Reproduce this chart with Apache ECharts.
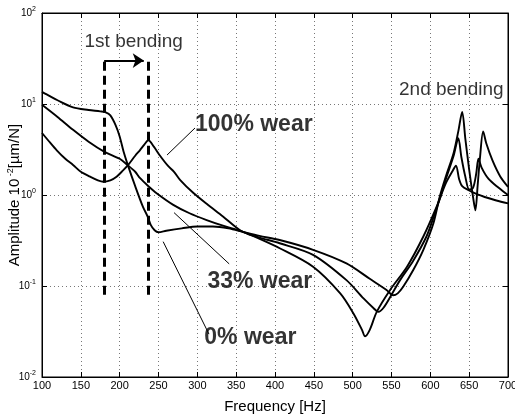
<!DOCTYPE html>
<html>
<head>
<meta charset="utf-8">
<script src="https://cdn.jsdelivr.net/npm/echarts@6/dist/echarts.min.js"></script>
<style>
  html, body { margin: 0; padding: 0; background: #fff; }
  #chart { width: 515px; height: 416px; }
</style>
</head>
<body>
<div id="chart"></div>
<script>
// frequency response curves (Hz, amplitude)
const freq0 = [100, 110, 120, 140, 160, 175, 182, 188, 195, 200, 205, 210, 220, 230, 236, 240, 245, 250, 260, 280, 300, 320, 340, 360, 380, 406, 449, 492, 522, 544, 552, 558, 565, 578, 591, 604, 612, 620, 630, 636, 641, 645, 650, 655, 658, 661, 664, 668, 672, 680, 690, 700];
const amp0 = [13.6, 12.2, 11, 9.2, 8.6, 8.3, 8.1, 7.5, 5.8, 4.4, 3.0, 2.2, 1.25, 0.74, 0.58, 0.47, 0.41, 0.39, 0.405, 0.43, 0.45, 0.45, 0.43, 0.39, 0.355, 0.32, 0.25, 0.177, 0.12, 0.09, 0.079, 0.083, 0.098, 0.15, 0.25, 0.49, 0.95, 1.6, 2.9, 5.0, 8.2, 4.2, 1.9, 0.95, 0.68, 1.3, 2.6, 5.0, 3.7, 2.4, 1.6, 1.23];

const freq33 = [100, 120, 140, 160, 180, 200, 210, 220, 226, 237, 248, 269, 290, 312, 333, 355, 365, 380, 406, 449, 492, 514, 527, 533, 540, 550, 561, 578, 595, 605, 612, 620, 630, 636, 640, 645, 650, 655, 659, 662, 666, 675, 688, 700];
const amp33 = [9.8, 7.2, 5.2, 3.85, 3.0, 2.5, 2.14, 1.8, 1.54, 1.25, 1.04, 0.78, 0.63, 0.53, 0.46, 0.405, 0.375, 0.34, 0.295, 0.22, 0.116, 0.073, 0.057, 0.052, 0.058, 0.08, 0.116, 0.19, 0.35, 0.6, 0.9, 1.5, 2.7, 4.2, 2.6, 1.6, 1.15, 1.2, 1.7, 2.5, 2.0, 1.5, 1.2, 1.0];

const freq100 = [100, 110, 119, 130, 140, 150, 162, 172, 179, 188, 196, 204, 211, 220, 226, 232, 237, 244, 252, 262, 270, 278, 295, 312, 333, 355, 370, 406, 449, 484, 501, 512, 516, 522, 531, 548, 570, 591, 608, 620, 628, 633, 637, 641, 650, 660, 670, 685, 700];
const amp100 = [4.8, 3.8, 3.1, 2.5, 2.14, 1.8, 1.59, 1.45, 1.4, 1.45, 1.59, 1.85, 2.14, 2.7, 3.1, 3.6, 4.0, 3.4, 2.7, 2.1, 1.8, 1.46, 1.05, 0.8, 0.58, 0.41, 0.36, 0.26, 0.163, 0.083, 0.05, 0.033, 0.028, 0.033, 0.052, 0.09, 0.163, 0.35, 0.74, 1.35, 1.8, 2.1, 1.5, 1.25, 1.12, 1.02, 0.95, 0.87, 0.81];

// annotations
const bendFreqs = [180, 237];
const bendRange = [0.08, 33];
const arrowFreqs = [180, 231];
const arrowAmp = 30;
const labelTexts = ['1st bending', '2nd bending', '100% wear', '33% wear', '0% wear'];
const labelFreqs = [218, 627, 297, 313, 309];
const labelAmps = [48, 14.2, 5.9, 0.113, 0.027];
const leaderFrom = [[261, 2.75], [270, 0.64], [256, 0.307]];
const leaderTo = [[297, 5.45], [341, 0.175], [315, 0.0296]];

const xTicks = [100, 700, 50];
const yRange = [0.01, 100];

const chart = echarts.init(document.getElementById('chart'));

const pairs = (xs, ys) => xs.map((x, i) => [x, ys[i]]);

function curve(name, xs, ys) {
    return {
        name: name,
        type: 'line',
        data: pairs(xs, ys),
        smooth: 0.3,
        symbol: 'none',
        lineStyle: { color: '#000', width: 1.9 },
        emphasis: { disabled: true }
    };
}

const font = 'Liberation Sans, Arial, sans-serif';

const markLines = [];
bendFreqs.forEach(f => {
    markLines.push([
        { coord: [f, bendRange[0]], lineStyle: { type: [9, 5], width: 3, color: '#000' } },
        { coord: [f, bendRange[1]] }
    ]);
});
markLines.push([
    { coord: [arrowFreqs[0], arrowAmp], symbol: 'none', lineStyle: { type: 'solid', width: 2, color: '#000' } },
    { coord: [arrowFreqs[1], arrowAmp], symbol: 'arrow' }
]);
leaderFrom.forEach((p, i) => {
    markLines.push([
        { coord: p, lineStyle: { type: 'solid', width: 1, color: '#000' } },
        { coord: leaderTo[i] }
    ]);
});

const labelData = labelTexts.map((t, i) => ({
    name: t,
    value: [labelFreqs[i], labelAmps[i]],
    label: i < 2
        ? { position: 'inside', fontSize: 19, fontWeight: 'normal' }
        : { position: 'right', distance: 0, fontSize: 23, fontWeight: 'bold' }
}));

const supLabel = v => '10{s|' + Math.round(Math.log10(v)) + '}';

const option = {
    animation: false,
    textStyle: { fontFamily: font },
    grid: {
        left: 42, right: 7, top: 13, bottom: 39,
        containLabel: false, outerBoundsMode: 'none',
        show: true, borderColor: '#000', borderWidth: 1
    },
    xAxis: [{
        type: 'value',
        min: xTicks[0],
        max: xTicks[1],
        interval: xTicks[2],
        name: 'Frequency [Hz]',
        nameLocation: 'middle',
        nameGap: 22,
        nameMoveOverlap: false,
        nameTextStyle: { fontSize: 15, color: '#000', fontFamily: font },
        axisLine: { lineStyle: { color: '#000' } },
        axisTick: { inside: true, length: 5, lineStyle: { color: '#000' } },
        axisLabel: { fontSize: 11, color: '#000', margin: 3, fontFamily: font },
        splitLine: { show: true, lineStyle: { type: [1, 3], color: '#777' } }
    }, {
        type: 'value',
        position: 'top',
        min: xTicks[0],
        max: xTicks[1],
        interval: xTicks[2],
        axisLine: { lineStyle: { color: '#000' } },
        axisTick: { inside: true, length: 5, lineStyle: { color: '#000' } },
        axisLabel: { show: false },
        splitLine: { show: false }
    }],
    yAxis: [{
        type: 'log',
        logBase: 10,
        min: yRange[0],
        max: yRange[1],
        name: 'Amplitude 10{s| -2}[µm/N]',
        nameLocation: 'middle',
        nameGap: 19,
        nameMoveOverlap: false,
        nameRotate: 90,
        nameTextStyle: {
            fontSize: 15, color: '#000', fontFamily: font,
            rich: { s: { fontSize: 9, color: '#000', padding: [0, 0, 8, 0], fontFamily: font } }
        },
        axisLine: { lineStyle: { color: '#000' } },
        axisTick: { inside: true, length: 5, lineStyle: { color: '#000' } },
        minorTick: { show: false },
        axisLabel: {
            fontSize: 10, color: '#000', margin: 6, fontFamily: font,
            formatter: supLabel,
            rich: { s: { fontSize: 7, color: '#000', padding: [0, 0, 7, 0], fontFamily: font } }
        },
        splitLine: { show: true, lineStyle: { type: [1, 3], color: '#777' } }
    }, {
        type: 'log',
        logBase: 10,
        min: yRange[0],
        max: yRange[1],
        position: 'right',
        axisLine: { lineStyle: { color: '#000' } },
        axisTick: { inside: true, length: 5, lineStyle: { color: '#000' } },
        axisLabel: { show: false },
        splitLine: { show: false }
    }],
    series: [
        curve('0% wear', freq0, amp0),
        curve('33% wear', freq33, amp33),
        curve('100% wear', freq100, amp100),
        {
            name: 'notes',
            type: 'scatter',
            symbolSize: 0,
            data: labelData,
            label: {
                show: true,
                formatter: p => p.name,
                color: '#000',
                textBorderWidth: 0,
                fontFamily: font
            },
            emphasis: { disabled: true },
            markLine: {
                silent: true,
                symbol: 'none',
                symbolSize: 11,
                label: { show: false },
                data: markLines
            }
        }
    ]
};

chart.setOption(option);
window.addEventListener('resize', () => { chart.resize(); });
</script>
</body>
</html>
